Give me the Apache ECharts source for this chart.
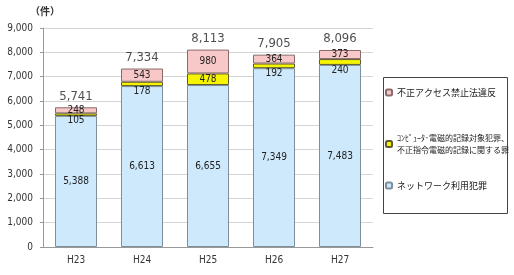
<!DOCTYPE html>
<html><head><meta charset="utf-8">
<script src="https://cdn.jsdelivr.net/npm/echarts@6/dist/echarts.min.js"></script>
<style>html,body{margin:0;padding:0;background:#fff}#c{width:514px;height:275px}</style>
</head><body><div id="c"></div>
<script>
const categories = ['H23', 'H24', 'H25', 'H26', 'H27'];
const networkCrime = [5388, 6613, 6655, 7349, 7483];
const computerCrime = [105, 178, 478, 192, 240];
const accessCrime = [248, 543, 980, 364, 373];
const totals = [5741, 7334, 8113, 7905, 8096];
const seriesNames = ['ネットワーク利用犯罪', 'ｺﾝﾋﾟｭｰﾀ･電磁的記録対象犯罪、\n不正指令電磁的記録に関する罪', '不正アクセス禁止法違反'];
const yTicks = [0, 1000, 2000, 3000, 4000, 5000, 6000, 7000, 8000, 9000];

const numFont = "'DejaVu Sans Condensed', 'DejaVu Sans', sans-serif";
const jpFont = "'Noto Sans CJK JP', sans-serif";
const fmt = v => Number(v).toLocaleString('en-US');

const chart = echarts.init(document.getElementById('c'), null, {renderer: 'canvas'});
chart.setOption({
  animation: false,
  backgroundColor: '#fff',
  grid: {left: 43, right: 141, top: 28, bottom: 28},
  xAxis: {
    type: 'category', data: categories,
    axisLine: {lineStyle: {color: '#999'}},
    axisTick: {show: false},
    axisLabel: {color: '#333', fontSize: 10, fontFamily: numFont, margin: 8}
  },
  yAxis: {
    type: 'value', min: yTicks[0], max: yTicks[yTicks.length - 1], interval: 1000,
    axisLine: {show: true, lineStyle: {color: '#999'}},
    axisTick: {show: true, length: 3, lineStyle: {color: '#999'}},
    splitLine: {lineStyle: {color: '#d4d4d4'}},
    axisLabel: {color: '#333', fontSize: 10, fontFamily: numFont, margin: 10, formatter: fmt}
  },
  legend: [
    {data: [seriesNames[2]], left: 383, top: 86, itemWidth: 6, itemHeight: 6, padding: 2,
     textStyle: {fontSize: 9, fontFamily: jpFont, color: '#222'}},
    {data: [seriesNames[1]], left: 383, top: 130, itemWidth: 6, itemHeight: 6, padding: 2,
     textStyle: {fontSize: 8, lineHeight: 12, fontFamily: jpFont, color: '#222'}},
    {data: [seriesNames[0]], left: 383, top: 179, itemWidth: 6, itemHeight: 6, padding: 2,
     textStyle: {fontSize: 9, fontFamily: jpFont, color: '#222'}}
  ],
  graphic: [
    {type: 'rect', shape: {x: 383.5, y: 77.5, width: 124, height: 136}, style: {fill: 'none', stroke: '#444', lineWidth: 1}, z: 0},
    {type: 'text', left: 30, top: 6, style: {text: '（件）', fontSize: 10, fontWeight: 'bold', fontFamily: jpFont, fill: '#333'}}
  ],
  series: [
    {name: seriesNames[0], type: 'bar', stack: 't', data: networkCrime, barWidth: 42,
     itemStyle: {color: '#cde9fb', borderColor: '#7e8f9c', borderWidth: 1},
     label: {show: true, position: 'inside', fontSize: 10, fontFamily: numFont, color: '#222', formatter: p => fmt(p.value)}},
    {name: seriesNames[1], type: 'bar', stack: 't',
     data: computerCrime.map((v, i) => i === 2 ? {value: v, label: {position: 'inside'}} : v),
     itemStyle: {color: '#f6f400', borderColor: '#5c5a30', borderWidth: 1},
     label: {show: true, position: 'bottom', distance: 0, fontSize: 10, fontFamily: numFont, color: '#222', formatter: p => fmt(p.value)}},
    {name: seriesNames[2], type: 'bar', stack: 't', data: accessCrime,
     itemStyle: {color: '#f8c8c8', borderColor: '#8a6a6a', borderWidth: 1},
     label: {show: true, position: 'inside', fontSize: 10, fontFamily: numFont, color: '#222', formatter: p => fmt(p.value)}},
    {name: 'total', type: 'scatter', data: totals, symbolSize: 1, itemStyle: {color: 'rgba(0,0,0,0)'},
     label: {show: true, position: 'top', distance: 4, fontSize: 13, fontFamily: numFont, color: '#222', formatter: p => fmt(p.value)}}
  ]
});
</script></body></html>
